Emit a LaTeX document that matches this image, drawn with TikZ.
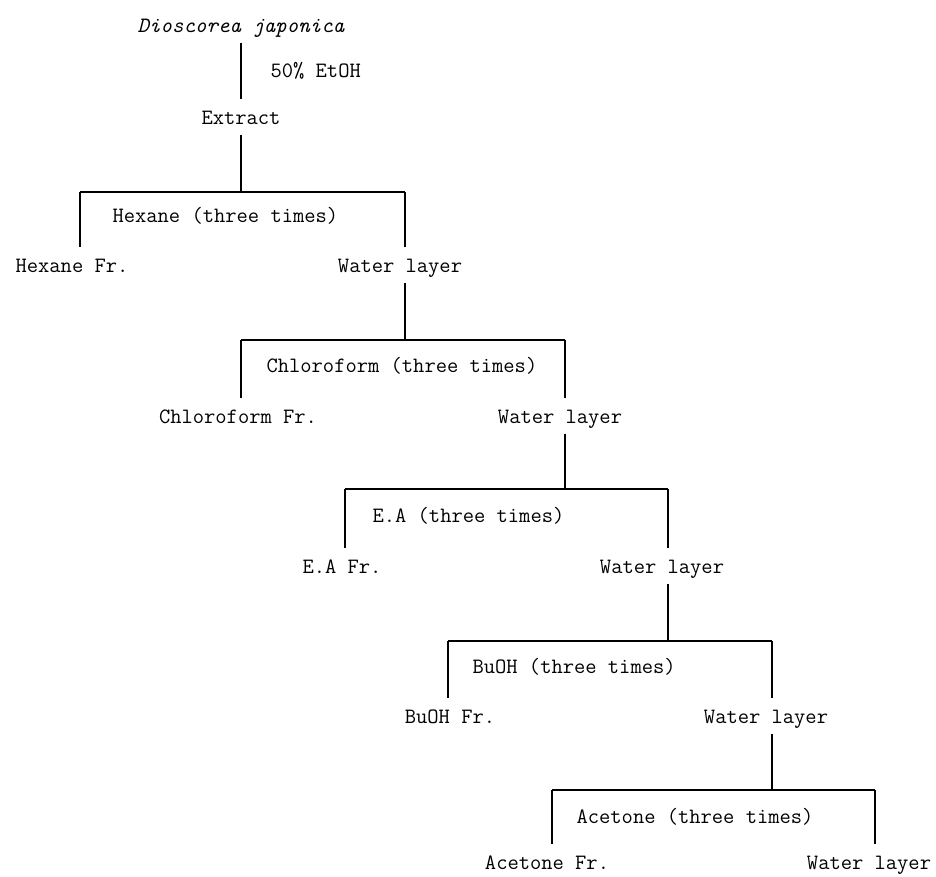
\documentclass[tikz,border=0pt]{standalone}
\usepackage{tikz}

\begin{document}
\begin{tikzpicture}[x=1pt,y=-1pt,line width=1.2pt,
  lbl/.style={font=\fontsize{21.9}{26}\selectfont\ttfamily,anchor=base,
    inner xsep=0pt,inner ysep=8pt,text height=16pt,text depth=2pt},
  solv/.style={lbl,anchor=base west}]
			\useasboundingbox (0,0) rectangle (936,876);
			% Labels
			\node[lbl] (plant) at (241,32) {\itshape Dioscorea japonica};
			\node[solv] (etoh) at (270,77) {50\% EtOH};
			\node[lbl] (extract) at (241,124) {Extract};
			\node[solv] (hexane) at (112,222) {Hexane (three times)};
			\node[lbl] (hexfr) at (72,272) {Hexane Fr.};
			\node[lbl] (water1) at (400,272) {Water layer};
			\node[solv] (chloro) at (266,372) {Chloroform (three times)};
			\node[lbl] (chlfr) at (238,423) {Chloroform Fr.};
			\node[lbl] (water2) at (560,423) {Water layer};
			\node[solv] (ea) at (372,522) {E.A (three times)};
			\node[lbl] (eafr) at (342,573) {E.A Fr.};
			\node[lbl] (water3) at (662,573) {Water layer};
			\node[solv] (buoh) at (472,673) {BuOH (three times)};
			\node[lbl] (bufr) at (450,723) {BuOH Fr.};
			\node[lbl] (water4) at (766,723) {Water layer};
			\node[solv] (acetone) at (576,823) {Acetone (three times)};
			\node[lbl] (acefr) at (547,869) {Acetone Fr.};
			\node[lbl] (water5) at (869,869) {Water layer};
			% Bar ends
			\coordinate (hexL) at (80,192);
			\coordinate (hexR) at (405,192);
			\coordinate (chlL) at (241,340);
			\coordinate (chlR) at (565,340);
			\coordinate (eaL) at (345,489);
			\coordinate (eaR) at (668,489);
			\coordinate (buL) at (448,641);
			\coordinate (buR) at (772,641);
			\coordinate (aceL) at (552,790);
			\coordinate (aceR) at (875,790);
			% Lines
			\draw (plant) -- (extract);
			\draw (extract) -- (extract |- hexL);
			\draw (hexL) -- (hexR);
			\draw (hexL) -- (hexL |- hexfr.north);
			\draw (hexR) -- (hexR |- water1.north);
			\draw (hexR |- water1.south) -- (hexR |- chlL);
			\draw (chlL) -- (chlR);
			\draw (chlL) -- (chlL |- chlfr.north);
			\draw (chlR) -- (chlR |- water2.north);
			\draw (chlR |- water2.south) -- (chlR |- eaL);
			\draw (eaL) -- (eaR);
			\draw (eaL) -- (eaL |- eafr.north);
			\draw (eaR) -- (eaR |- water3.north);
			\draw (eaR |- water3.south) -- (eaR |- buL);
			\draw (buL) -- (buR);
			\draw (buL) -- (buL |- bufr.north);
			\draw (buR) -- (buR |- water4.north);
			\draw (buR |- water4.south) -- (buR |- aceL);
			\draw (aceL) -- (aceR);
			\draw (aceL) -- (aceL |- acefr.north);
			\draw (aceR) -- (aceR |- water5.north);
		\end{tikzpicture}
\end{document}
